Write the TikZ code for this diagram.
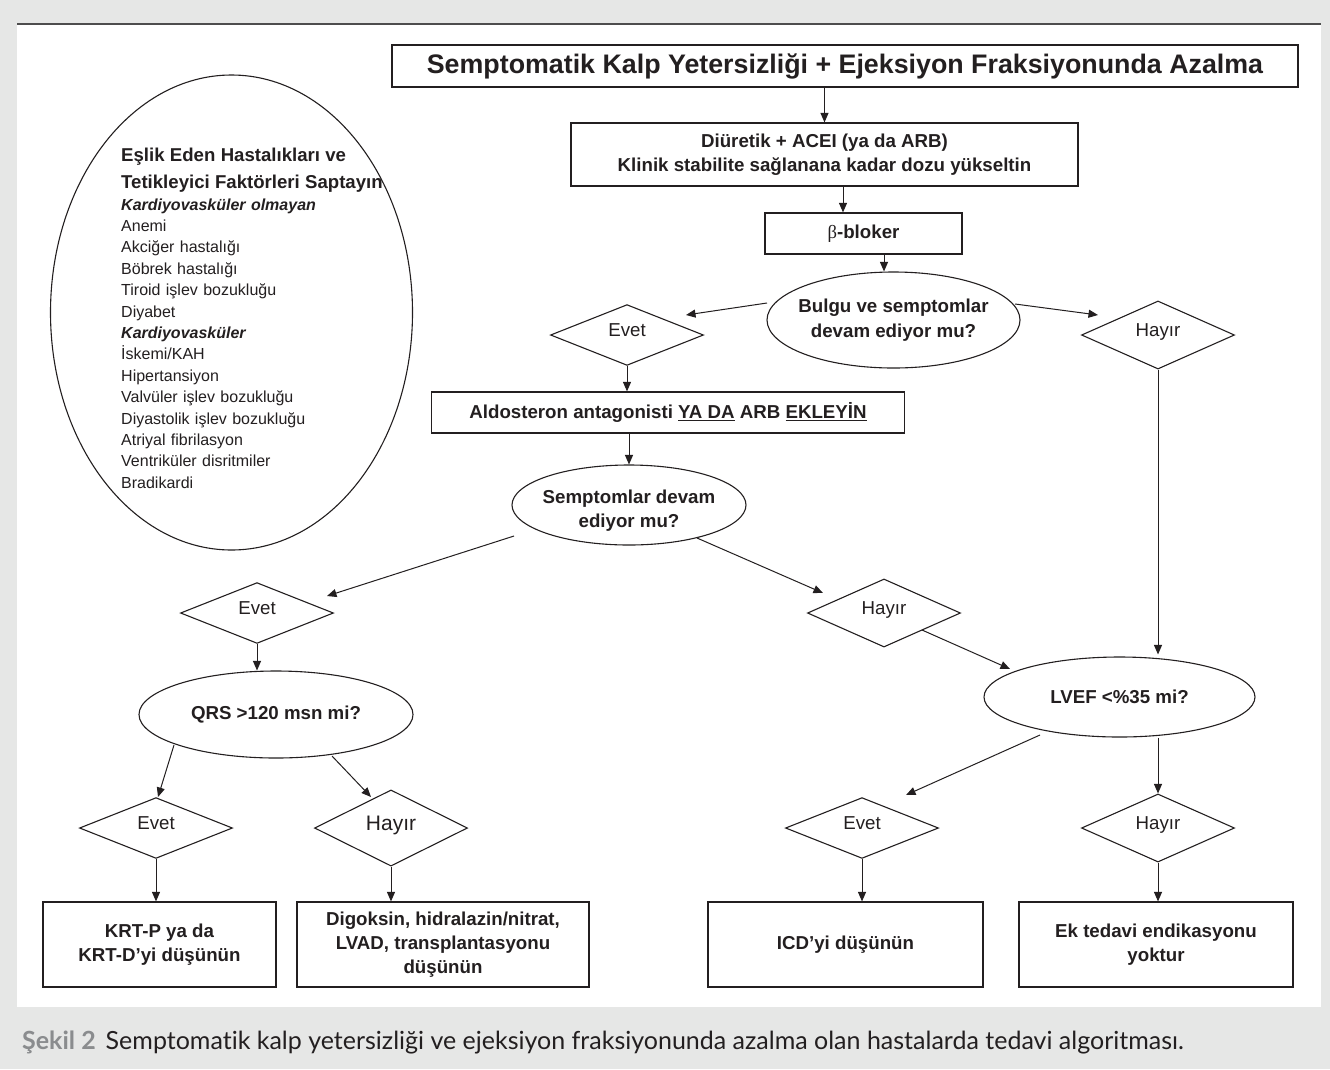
\documentclass[tikz,border=0pt]{standalone}
\usepackage{fontspec}
\setmainfont{Liberation Sans}
\newfontfamily\capfont{Lato}[Ligatures=NoCommon]
\newfontfamily\symfont{Liberation Serif}
\usetikzlibrary{shapes.geometric,arrows.meta}
\definecolor{ink}{HTML}{231F20}
\definecolor{pagegrey}{HTML}{E6E7E6}
\definecolor{rulegrey}{HTML}{4D4D4D}
\definecolor{figlabel}{HTML}{8A8C8E}
\newcommand{\fsz}[2]{\fontsize{#1}{#2}\selectfont}

\begin{document}
\begin{tikzpicture}[x=1pt,y=-1pt,
  every node/.style={text=ink},
  box/.style={draw=ink, line width=1.2pt, rectangle, inner sep=0pt, align=center,
              font=\fsz{18.7}{24}\bfseries},
  oval/.style={draw=ink, line width=1.1pt, ellipse, inner xsep=-25pt, inner ysep=0pt,
               align=center, font=\fsz{18.7}{24.5}\bfseries},
  choice/.style={draw=ink, line width=1.1pt, diamond, minimum width=153pt, minimum height=60pt,
                 inner sep=0pt, font=\fsz{18.7}{22}, text height=13.4pt, text depth=10pt},
  arr/.style={draw=ink, line width=1pt, -{Triangle[length=9.5pt,width=8pt]}},
]
\useasboundingbox (0,0) rectangle (1330,1069);
% page and panel
\fill[pagegrey] (0,0) rectangle (1330,1069);
\fill[white] (17,24) rectangle (1321,1007);
\draw[rulegrey, line width=1.3pt] (17,24) -- (1321,24);

% comorbidity ellipse
\node[draw=ink, line width=1.1pt, ellipse, minimum width=362pt, minimum height=475pt, inner sep=0pt]
  (comorb) at (231.5,312.5) {};
\node[anchor=north west, text width=300pt, align=left, inner sep=0pt, font=\fsz{16}{21.4}]
  (comorbtxt) at (121,148) {%
  {\fsz{18.6}{21.4}\bfseries Eşlik Eden Hastalıkları ve\\[5.7pt]
   Tetikleyici Faktörleri Saptayın}\\
  {\bfseries\itshape Kardiyovasküler olmayan}\\
  Anemi\\
  Akciğer hastalığı\\
  Böbrek hastalığı\\
  Tiroid işlev bozukluğu\\
  Diyabet\\
  {\bfseries\itshape Kardiyovasküler}\\
  İskemi/KAH\\
  Hipertansiyon\\
  Valvüler işlev bozukluğu\\
  Diyastolik işlev bozukluğu\\
  Atriyal fibrilasyon\\
  Ventriküler disritmiler\\
  Bradikardi};

% main flow
\node[box, minimum width=906pt, minimum height=42pt, font=\fsz{26.8}{30}\bfseries]
  (title) at (845,66) {Semptomatik Kalp Yetersizliği + Ejeksiyon Fraksiyonunda Azalma};
\node[box, minimum width=507pt, minimum height=63pt] (diur) at (824.5,154.5)
  {Diüretik + ACEI (ya da ARB)\\Klinik stabilite sağlanana kadar dozu yükseltin};
\node[box, minimum width=197pt, minimum height=41pt] (beta) at (863.5,233.5)
  {{\symfont\mdseries β}-bloker};
\node[oval, minimum width=253pt, minimum height=96pt] (bulgu) at (893.5,320)
  {Bulgu ve semptomlar\\devam ediyor mu?};
\node[choice] (ev1) at (627,335) {Evet};
\node[choice] (hy1) at (1158,335) {Hayır};
\node[box, minimum width=473pt, minimum height=41pt] (ald) at (668,412.5)
  {Aldosteron antagonisti \underline{YA DA} ARB \underline{EKLEYİN}};
\node[oval, minimum width=234pt, minimum height=80pt] (semp) at (629,505)
  {\rule{0pt}{25pt}Semptomlar devam\\ediyor mu?};
\node[choice] (ev2) at (257,613) {Evet};
\node[choice] (hy2) at (884,613) {Hayır};
\node[oval, minimum width=274pt, minimum height=87pt] (qrs) at (276,714.5) {QRS >120 msn mi?};
\node[oval, minimum width=271pt, minimum height=80pt] (lvef) at (1119.5,697) {LVEF <\%35 mi?};
\node[choice] (ev3) at (156,828) {Evet};
\node[choice, font=\fsz{21}{24}, text height=15pt, text depth=11pt] (hy3) at (391,828) {Hayır};
\node[choice] (ev4) at (862,828) {Evet};
\node[choice] (hy4) at (1158,828) {Hayır};
\node[box, minimum width=233pt, minimum height=85pt] (krt) at (159.5,944.5)
  {KRT-P ya da\\KRT-D’yi düşünün};
\node[box, minimum width=292pt, minimum height=85pt] (dig) at (443,944.5)
  {Digoksin, hidralazin/nitrat,\\LVAD, transplantasyonu\\düşünün};
\node[box, minimum width=275pt, minimum height=85pt] (icd) at (845.5,944.5) {ICD’yi düşünün};
\node[box, minimum width=274pt, minimum height=85pt] (ek) at (1156,944.5)
  {Ek tedavi endikasyonu\\yoktur};

% loose ends of the slanted connectors
\coordinate (bulguL) at (767,303);   \coordinate (ev1in) at (686,315);
\coordinate (bulguR) at (1015,304);  \coordinate (hy1in) at (1098,315);
\coordinate (sempL) at (514,536);    \coordinate (ev2in) at (327,596);
\coordinate (sempR) at (697,538);    \coordinate (hy2in) at (823,593);
\coordinate (hy2out) at (922,630);   \coordinate (lvefin) at (1010,669);
\coordinate (qrsL) at (174,745);     \coordinate (ev3in) at (158,797);
\coordinate (qrsR) at (332,756);     \coordinate (hy3in) at (371,797);
\coordinate (lvefL) at (1040,735);   \coordinate (ev4in) at (906,795);

% connectors
\draw[arr] (diur.north |- title.south) -- (diur.north);
\draw[arr] ([xshift=-20.5pt]beta.north |- diur.south) -- ([xshift=-20.5pt]beta.north);
\draw[arr] ([xshift=20.5pt]beta.south) -- ([xshift=20.5pt]beta.south |- bulgu.north);
\draw[arr] (bulguL) -- (ev1in);
\draw[arr] (bulguR) -- (hy1in);
\draw[arr] (ev1.south) -- (ev1.south |- ald.north);
\draw[arr] (semp.north |- ald.south) -- (semp.north);
\draw[arr, shorten >=2pt] (hy1.south) -- (hy1.south |- lvef.north);
\draw[arr] (sempL) -- (ev2in);
\draw[arr] (sempR) -- (hy2in);
\draw[arr] (hy2out) -- (lvefin);
\draw[arr] (ev2.south) -- (ev2.south |- qrs.north);
\draw[arr] (qrsL) -- (ev3in);
\draw[arr] (qrsR) -- (hy3in);
\draw[arr] (lvefL) -- (ev4in);
\draw[arr] (hy4.north |- lvef.south) -- (hy4.north);
\draw[arr] (ev3.south) -- (ev3.south |- krt.north);
\draw[arr] (hy3.south) -- (hy3.south |- dig.north);
\draw[arr] (ev4.south) -- (ev4.south |- icd.north);
\draw[arr] (hy4.south) -- (hy4.south |- ek.north);

% caption
\node[anchor=base west, inner sep=0pt, font=\capfont\fsz{25}{30}] (caption) at (22,1049)
  {\textcolor{figlabel}{\bfseries Şekil 2}\hspace{10pt}Semptomatik kalp yetersizliği ve ejeksiyon fraksiyonunda azalma olan hastalarda tedavi algoritması.};
\end{tikzpicture}
\end{document}
